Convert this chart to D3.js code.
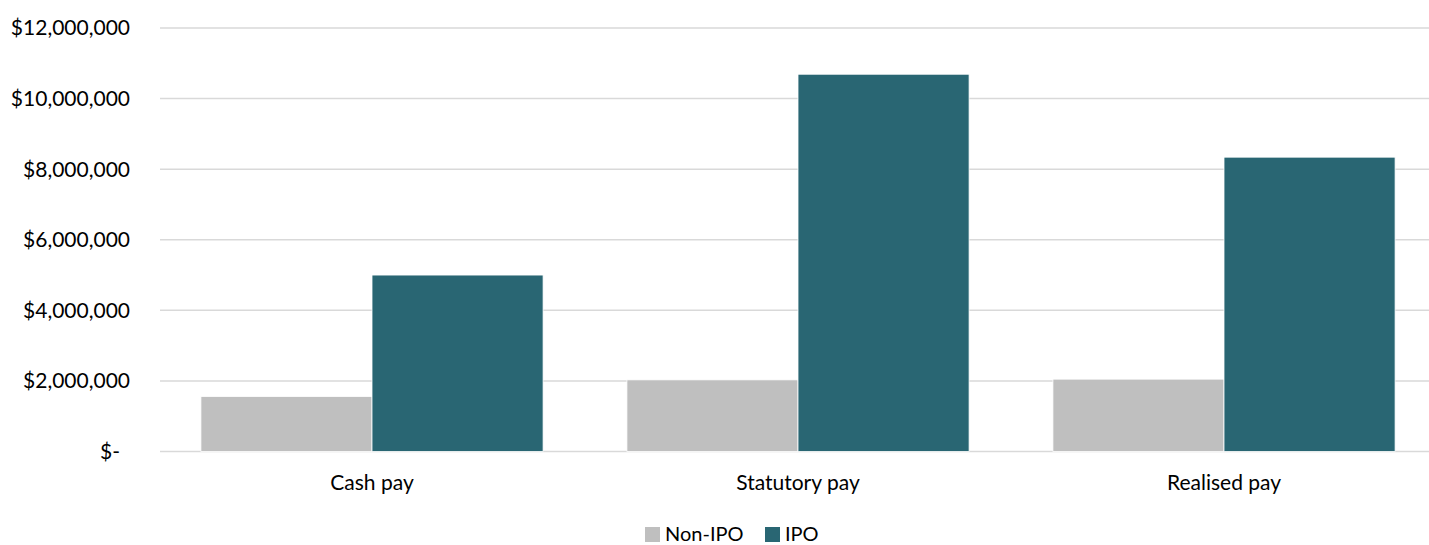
<!DOCTYPE html>
<html>
<head>
<meta charset="utf-8">
<script src="https://cdn.jsdelivr.net/npm/d3@7"></script>
<style>
  body { margin: 0; background: #fff; overflow: hidden; }
  text { font-family: Lato, "Open Sans", sans-serif; fill: #000; }
</style>
</head>
<body>
<script>
const categories = ["Cash pay", "Statutory pay", "Realised pay"];
const seriesNames = ["Non-IPO", "IPO"];
const nonIpo = [1560000, 2030000, 2050000];
const ipo = [5000000, 10690000, 8340000];
const yTicks = [0, 2000000, 4000000, 6000000, 8000000, 10000000, 12000000];
const colors = ["#bfbfbf", "#296673"];

const width = 1429, height = 545;
const margin = { left: 159, right: -8, top: 28, bottom: 93 };

const svg = d3.select("body").append("svg")
  .attr("width", width).attr("height", height);

const x = d3.scaleBand()
  .domain(categories)
  .range([margin.left, width - margin.right])
  .paddingInner(0).paddingOuter(0);

const sub = d3.scaleBand()
  .domain(seriesNames)
  .range([0, x.bandwidth()])
  .paddingOuter(0.245).paddingInner(0);

const y = d3.scaleLinear()
  .domain([0, 12000000])
  .range([height - margin.bottom - 0.5, margin.top]);

// gridlines
svg.append("g")
  .selectAll("line")
  .data(yTicks)
  .enter()
  .append("line")
  .attr("x1", 160)
  .attr("x2", width)
  .attr("y1", (d) => y(d))
  .attr("y2", (d) => y(d))
  .attr("stroke", "#d9d9d9")
  .attr("stroke-width", 1.5);

// y labels
const fmt = d3.format(",");
svg.append("g")
  .selectAll("text")
  .data(yTicks)
  .enter()
  .append("text")
  .attr("x", (d) => (d === 0 ? 120 : 130))
  .attr("y", (d) => y(d))
  .attr("dy", "0.35em")
  .attr("text-anchor", "end")
  .style("font-size", "21px")
  .text((d) => (d === 0 ? "$-" : "$" + fmt(d)));

// bars
const rows = categories.map((c, i) => ({ cat: c, vals: [nonIpo[i], ipo[i]] }));
const groups = svg.append("g")
  .selectAll("g")
  .data(rows)
  .enter()
  .append("g")
  .attr("transform", (d) => `translate(${x(d.cat)},0)`);

groups.selectAll("rect")
  .data((d) => d.vals.map((v, j) => ({ key: seriesNames[j], v: v, j: j })))
  .enter()
  .append("rect")
  .attr("x", (d) => sub(d.key))
  .attr("width", sub.bandwidth())
  .attr("y", (d) => y(d.v))
  .attr("height", (d) => y(0) - y(d.v))
  .attr("fill", (d) => colors[d.j])
  .attr("stroke", "#ffffff")
  .attr("stroke-width", 0.8);

// category labels
svg.append("g")
  .selectAll("text")
  .data(categories)
  .enter()
  .append("text")
  .attr("x", (d) => x(d) + x.bandwidth() / 2)
  .attr("y", 490)
  .attr("text-anchor", "middle")
  .style("font-size", "21px")
  .text((d) => d);

// legend
const legendX = [645, 765];
const legend = svg.append("g")
  .selectAll("g")
  .data(seriesNames)
  .enter()
  .append("g")
  .attr("transform", (_, i) => `translate(${legendX[i]},527)`);

legend.append("rect")
  .attr("width", 15)
  .attr("height", 15)
  .attr("fill", (_, i) => colors[i]);

legend.append("text")
  .attr("x", 20)
  .attr("y", 7)
  .attr("dy", "0.35em")
  .style("font-size", "20px")
  .text((d) => d);
</script>
</body>
</html>
